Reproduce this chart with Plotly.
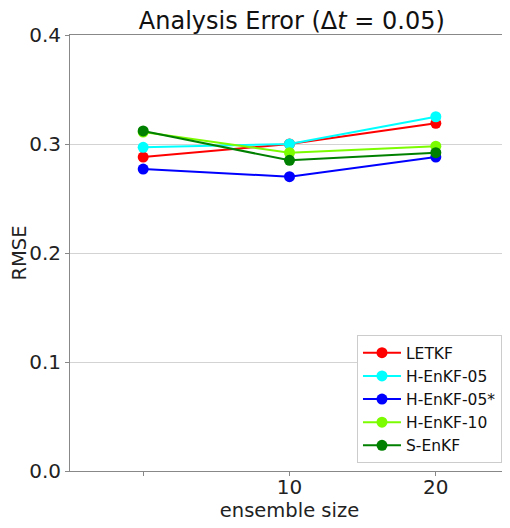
import plotly.graph_objects as go

x_pos = [0, 1, 2]
x_labels = ["", "10", "20"]

series_names = ["LETKF", "H-EnKF-05", "H-EnKF-05*", "H-EnKF-10", "S-EnKF"]
letkf = [0.288, 0.300, 0.319]
henkf05 = [0.297, 0.300, 0.325]
henkf05s = [0.277, 0.270, 0.288]
henkf10 = [0.311, 0.292, 0.298]
senkf = [0.312, 0.285, 0.292]
colors = ["#ff0000", "#00ffff", "#0000ff", "#7cfc00", "#008000"]

y_ticks = [0.0, 0.1, 0.2, 0.3, 0.4]
y_tick_text = ["0.0", "0.1", "0.2", "0.3", "0.4"]

fig = go.Figure()
for name, vals, c in zip(series_names, [letkf, henkf05, henkf05s, henkf10, senkf], colors):
    fig.add_trace(go.Scatter(x=x_pos, y=vals, mode="lines+markers", name=name,
                             line=dict(color=c, width=2),
                             marker=dict(color=c, size=11)))

font = "DejaVu Sans, sans-serif"
fig.update_layout(
    width=502, height=520,
    margin=dict(l=62, r=1, t=27, b=57),
    paper_bgcolor="white", plot_bgcolor="white",
    font=dict(family=font, color="#222222", size=19),
    title=dict(text="Analysis Error (Δ<i>t</i> = 0.05)", x=0.5655, xanchor="center",
               y=0.975, yanchor="middle", font=dict(size=24, color="#111111")),
    legend=dict(x=0.984, y=0.018, xanchor="right", yanchor="bottom",
                bgcolor="white", bordercolor="#cccccc", borderwidth=1,
                font=dict(size=15.5, color="#111111"), tracegroupgap=0,
                itemwidth=38),
    showlegend=True,
)
fig.update_xaxes(range=[-0.5, 2.5], tickvals=x_pos, ticktext=x_labels,
                 showgrid=False, zeroline=False, showline=True, linecolor="#888888",
                 mirror=True, ticks="outside", ticklen=4, tickcolor="#888888",
                 tickfont=dict(size=20), ticklabelstandoff=-6,
                 title=dict(text="ensemble size", font=dict(size=19.5), standoff=0))
fig.update_yaxes(range=[0, 0.4], tickvals=y_ticks, ticktext=y_tick_text,
                 showgrid=True, gridcolor="#d3d3d3", gridwidth=1, zeroline=False,
                 showline=True, linecolor="#888888", mirror=True,
                 ticks="outside", ticklen=4, tickcolor="#888888",
                 tickfont=dict(size=20),
                 title=dict(text="RMSE", font=dict(size=19.5), standoff=4))
fig.write_html("out.html")
